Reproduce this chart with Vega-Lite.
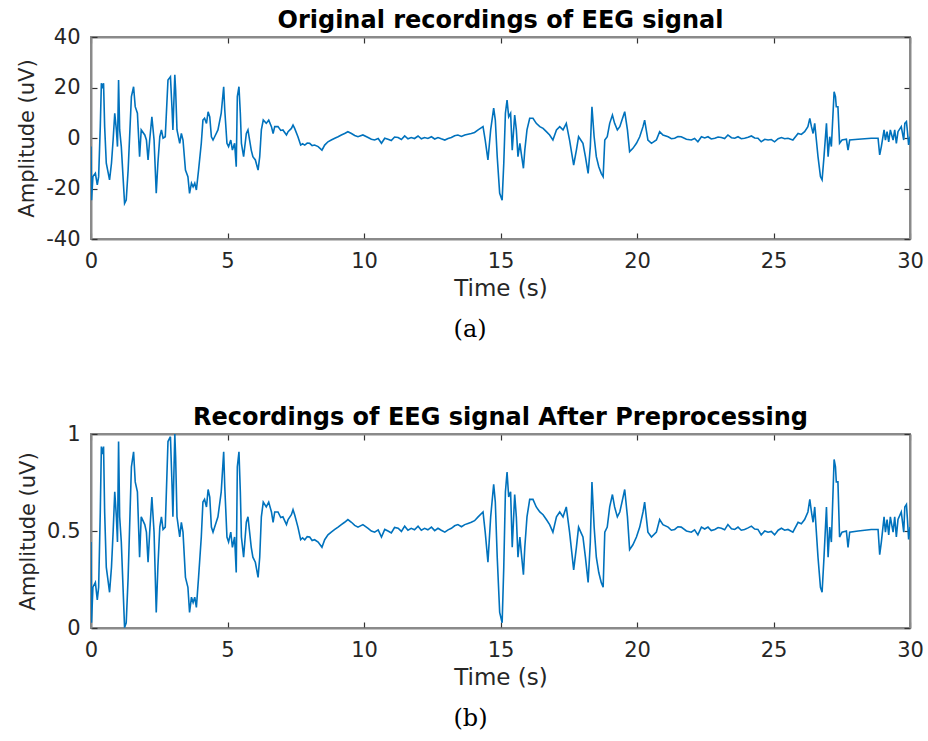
{
  "$schema": "https://vega.github.io/schema/vega-lite/v6.json",
  "background": "white",
  "padding": {"left": 15, "top": 8, "right": 5, "bottom": 5},
  "spacing": 63,
  "config": {
    "view": {"stroke": "#8a8a8a", "strokeWidth": 2},
    "axis": {
      "grid": false,
      "labelFont": "DejaVu Sans",
      "labelFontSize": 21,
      "labelColor": "#262626",
      "labelFlush": false,
      "titleFont": "DejaVu Sans",
      "titleFontSize": 21,
      "titleFontWeight": "normal",
      "titleColor": "#262626",
      "domainColor": "#8a8a8a",
      "domainWidth": 2,
      "tickColor": "#333333",
      "tickSize": -6,
      "tickWidth": 1.2
    },
    "title": {"font": "DejaVu Sans", "fontSize": 24, "fontWeight": "bold", "color": "#000000", "anchor": "middle", "offset": -7}
  },
  "datasets": {
    "eeg": [
      {"t":0.00,"a":-3.4,"b":0.443},{"t":0.02,"a":-24.6,"b":0.027},{"t":0.07,"a":-15.3,"b":0.210},{"t":0.16,"a":-14.0,"b":0.235},{"t":0.23,"a":-18.6,"b":0.145},{"t":0.28,"a":-15.3,"b":0.210},{"t":0.34,"a":4.5,"b":0.598},{"t":0.38,"a":21.7,"b":0.935},{"t":0.42,"a":19.7,"b":0.896},{"t":0.46,"a":21.7,"b":0.935},{"t":0.50,"a":4.5,"b":0.598},{"t":0.56,"a":-10.0,"b":0.314},{"t":0.68,"a":-16.6,"b":0.184},{"t":0.75,"a":-10.0,"b":0.314},{"t":0.81,"a":-0.8,"b":0.494},{"t":0.87,"a":9.8,"b":0.702},{"t":0.93,"a":3.2,"b":0.573},{"t":0.97,"a":-3.4,"b":0.443},{"t":1.01,"a":23.0,"b":0.961},{"t":1.05,"a":3.2,"b":0.573},{"t":1.11,"a":-3.4,"b":0.443},{"t":1.23,"a":-25.9,"b":0.002},{"t":1.29,"a":-24.6,"b":0.027},{"t":1.36,"a":-12.7,"b":0.261},{"t":1.48,"a":16.4,"b":0.831},{"t":1.56,"a":20.3,"b":0.908},{"t":1.62,"a":12.4,"b":0.753},{"t":1.70,"a":9.8,"b":0.702},{"t":1.78,"a":-7.4,"b":0.365},{"t":1.84,"a":3.2,"b":0.573},{"t":1.97,"a":1.2,"b":0.533},{"t":2.03,"a":-0.8,"b":0.494},{"t":2.09,"a":-8.7,"b":0.339},{"t":2.15,"a":-0.8,"b":0.494},{"t":2.23,"a":8.4,"b":0.675},{"t":2.31,"a":-0.8,"b":0.494},{"t":2.39,"a":-21.9,"b":0.080},{"t":2.45,"a":-10.0,"b":0.314},{"t":2.52,"a":0.5,"b":0.520},{"t":2.58,"a":3.2,"b":0.573},{"t":2.64,"a":-0.1,"b":0.508},{"t":2.72,"a":0.5,"b":0.520},{"t":2.82,"a":23.0,"b":0.961},{"t":2.91,"a":24.3,"b":0.986},{"t":2.97,"a":11.1,"b":0.727},{"t":3.00,"a":3.2,"b":0.573},{"t":3.07,"a":25.0,"b":1.0},{"t":3.10,"a":19.0,"b":0.882},{"t":3.15,"a":3.2,"b":0.573},{"t":3.25,"a":-2.1,"b":0.469},{"t":3.31,"a":1.8,"b":0.545},{"t":3.37,"a":-0.8,"b":0.494},{"t":3.46,"a":-12.7,"b":0.261},{"t":3.55,"a":-15.3,"b":0.210},{"t":3.61,"a":-21.9,"b":0.080},{"t":3.68,"a":-17.9,"b":0.159},{"t":3.74,"a":-19.3,"b":0.131},{"t":3.80,"a":-17.9,"b":0.159},{"t":3.86,"a":-20.6,"b":0.106},{"t":3.94,"a":-12.7,"b":0.261},{"t":4.04,"a":-2.1,"b":0.469},{"t":4.10,"a":7.1,"b":0.649},{"t":4.16,"a":7.8,"b":0.663},{"t":4.23,"a":5.8,"b":0.624},{"t":4.29,"a":10.4,"b":0.714},{"t":4.35,"a":8.4,"b":0.675},{"t":4.41,"a":0.5,"b":0.520},{"t":4.47,"a":-0.8,"b":0.494},{"t":4.53,"a":0.5,"b":0.520},{"t":4.65,"a":3.2,"b":0.573},{"t":4.77,"a":9.8,"b":0.702},{"t":4.86,"a":20.3,"b":0.908},{"t":4.90,"a":11.1,"b":0.727},{"t":4.98,"a":-2.1,"b":0.469},{"t":5.04,"a":-3.4,"b":0.443},{"t":5.12,"a":-0.8,"b":0.494},{"t":5.18,"a":-4.8,"b":0.416},{"t":5.26,"a":-2.1,"b":0.469},{"t":5.32,"a":-11.4,"b":0.286},{"t":5.36,"a":16.4,"b":0.831},{"t":5.42,"a":20.3,"b":0.908},{"t":5.47,"a":9.8,"b":0.702},{"t":5.51,"a":-2.1,"b":0.469},{"t":5.59,"a":-7.4,"b":0.365},{"t":5.69,"a":1.8,"b":0.545},{"t":5.75,"a":3.2,"b":0.573},{"t":5.81,"a":-0.8,"b":0.494},{"t":5.87,"a":-4.8,"b":0.416},{"t":5.93,"a":-7.4,"b":0.365},{"t":6.02,"a":-8.7,"b":0.339},{"t":6.12,"a":-12.7,"b":0.261},{"t":6.18,"a":-7.4,"b":0.365},{"t":6.24,"a":3.2,"b":0.573},{"t":6.31,"a":7.1,"b":0.649},{"t":6.42,"a":5.8,"b":0.624},{"t":6.51,"a":7.1,"b":0.649},{"t":6.61,"a":4.5,"b":0.598},{"t":6.67,"a":1.8,"b":0.545},{"t":6.73,"a":4.5,"b":0.598},{"t":6.85,"a":4.5,"b":0.598},{"t":6.95,"a":3.0,"b":0.569},{"t":7.03,"a":3.2,"b":0.573},{"t":7.16,"a":1.2,"b":0.533},{"t":7.22,"a":2.5,"b":0.559},{"t":7.34,"a":3.8,"b":0.584},{"t":7.40,"a":5.1,"b":0.610},{"t":7.46,"a":3.8,"b":0.584},{"t":7.58,"a":0.5,"b":0.520},{"t":7.68,"a":-2.8,"b":0.455},{"t":7.75,"a":-2.3,"b":0.465},{"t":7.83,"a":-2.8,"b":0.455},{"t":7.92,"a":-2.0,"b":0.471},{"t":8.01,"a":-2.1,"b":0.469},{"t":8.10,"a":-3.0,"b":0.451},{"t":8.19,"a":-2.8,"b":0.455},{"t":8.32,"a":-3.4,"b":0.443},{"t":8.46,"a":-4.8,"b":0.416},{"t":8.56,"a":-2.8,"b":0.455},{"t":8.68,"a":-1.5,"b":0.480},{"t":8.80,"a":-0.8,"b":0.494},{"t":8.93,"a":-0.1,"b":0.508},{"t":9.05,"a":0.5,"b":0.520},{"t":9.17,"a":1.2,"b":0.533},{"t":9.29,"a":1.8,"b":0.545},{"t":9.41,"a":2.5,"b":0.559},{"t":9.54,"a":1.8,"b":0.545},{"t":9.66,"a":1.0,"b":0.529},{"t":9.78,"a":0.5,"b":0.520},{"t":9.96,"a":1.2,"b":0.533},{"t":10.15,"a":0.2,"b":0.514},{"t":10.27,"a":-0.5,"b":0.500},{"t":10.39,"a":-0.8,"b":0.494},{"t":10.52,"a":-0.2,"b":0.506},{"t":10.64,"a":-2.1,"b":0.469},{"t":10.76,"a":-0.1,"b":0.508},{"t":10.88,"a":-0.5,"b":0.500},{"t":11.00,"a":-1.0,"b":0.490},{"t":11.12,"a":0.4,"b":0.518},{"t":11.25,"a":0.2,"b":0.514},{"t":11.37,"a":-0.6,"b":0.498},{"t":11.49,"a":0.8,"b":0.525},{"t":11.61,"a":-0.3,"b":0.504},{"t":11.73,"a":0.2,"b":0.514},{"t":11.85,"a":-0.2,"b":0.506},{"t":11.98,"a":0.8,"b":0.525},{"t":12.10,"a":-0.3,"b":0.504},{"t":12.22,"a":0.2,"b":0.514},{"t":12.34,"a":-0.2,"b":0.506},{"t":12.47,"a":0.5,"b":0.520},{"t":12.59,"a":-0.4,"b":0.502},{"t":12.71,"a":0.2,"b":0.514},{"t":12.83,"a":-0.3,"b":0.504},{"t":12.96,"a":-0.8,"b":0.494},{"t":13.08,"a":-0.2,"b":0.506},{"t":13.20,"a":0.2,"b":0.514},{"t":13.32,"a":0.9,"b":0.527},{"t":13.44,"a":1.2,"b":0.533},{"t":13.57,"a":0.6,"b":0.522},{"t":13.69,"a":1.2,"b":0.533},{"t":13.81,"a":1.5,"b":0.539},{"t":13.93,"a":1.8,"b":0.545},{"t":14.05,"a":2.2,"b":0.553},{"t":14.18,"a":3.2,"b":0.573},{"t":14.36,"a":4.5,"b":0.598},{"t":14.44,"a":-0.8,"b":0.494},{"t":14.54,"a":-8.7,"b":0.339},{"t":14.64,"a":3.2,"b":0.573},{"t":14.75,"a":11.8,"b":0.741},{"t":14.81,"a":7.1,"b":0.649},{"t":14.88,"a":-7.4,"b":0.365},{"t":14.97,"a":-21.9,"b":0.080},{"t":15.06,"a":-24.6,"b":0.027},{"t":15.12,"a":-10.0,"b":0.314},{"t":15.18,"a":9.8,"b":0.702},{"t":15.24,"a":15.0,"b":0.804},{"t":15.30,"a":8.4,"b":0.675},{"t":15.37,"a":9.8,"b":0.702},{"t":15.43,"a":-4.8,"b":0.416},{"t":15.52,"a":9.1,"b":0.688},{"t":15.58,"a":3.2,"b":0.573},{"t":15.64,"a":-7.4,"b":0.365},{"t":15.71,"a":-2.1,"b":0.469},{"t":15.76,"a":-6.1,"b":0.390},{"t":15.84,"a":-12.0,"b":0.275},{"t":15.89,"a":-4.8,"b":0.416},{"t":15.97,"a":3.2,"b":0.573},{"t":16.07,"a":7.8,"b":0.663},{"t":16.19,"a":7.8,"b":0.663},{"t":16.31,"a":5.8,"b":0.624},{"t":16.44,"a":4.5,"b":0.598},{"t":16.56,"a":3.8,"b":0.584},{"t":16.68,"a":2.5,"b":0.559},{"t":16.80,"a":1.2,"b":0.533},{"t":16.92,"a":-0.8,"b":0.494},{"t":17.05,"a":3.2,"b":0.573},{"t":17.17,"a":4.5,"b":0.598},{"t":17.29,"a":3.2,"b":0.573},{"t":17.41,"a":5.8,"b":0.624},{"t":17.53,"a":-0.8,"b":0.494},{"t":17.68,"a":-10.7,"b":0.300},{"t":17.78,"a":-4.8,"b":0.416},{"t":17.86,"a":0.5,"b":0.520},{"t":17.94,"a":-0.8,"b":0.494},{"t":18.02,"a":-2.1,"b":0.469},{"t":18.11,"a":-7.4,"b":0.365},{"t":18.21,"a":-14.0,"b":0.235},{"t":18.29,"a":-3.4,"b":0.443},{"t":18.35,"a":12.4,"b":0.753},{"t":18.43,"a":0.5,"b":0.520},{"t":18.51,"a":-7.4,"b":0.365},{"t":18.60,"a":-11.4,"b":0.286},{"t":18.69,"a":-14.0,"b":0.235},{"t":18.76,"a":-15.3,"b":0.210},{"t":18.82,"a":-0.8,"b":0.494},{"t":18.91,"a":0.5,"b":0.520},{"t":19.00,"a":5.8,"b":0.624},{"t":19.10,"a":9.1,"b":0.688},{"t":19.18,"a":5.8,"b":0.624},{"t":19.28,"a":3.2,"b":0.573},{"t":19.37,"a":4.5,"b":0.598},{"t":19.45,"a":7.1,"b":0.649},{"t":19.55,"a":10.4,"b":0.714},{"t":19.65,"a":3.2,"b":0.573},{"t":19.73,"a":-5.4,"b":0.404},{"t":19.85,"a":-4.1,"b":0.429},{"t":19.98,"a":-2.1,"b":0.469},{"t":20.10,"a":0.5,"b":0.520},{"t":20.22,"a":4.5,"b":0.598},{"t":20.28,"a":7.1,"b":0.649},{"t":20.40,"a":-0.8,"b":0.494},{"t":20.53,"a":-2.1,"b":0.469},{"t":20.71,"a":-0.8,"b":0.494},{"t":20.83,"a":2.5,"b":0.559},{"t":20.95,"a":1.2,"b":0.533},{"t":21.14,"a":0.5,"b":0.520},{"t":21.26,"a":-0.3,"b":0.504},{"t":21.38,"a":-0.1,"b":0.508},{"t":21.50,"a":0.6,"b":0.522},{"t":21.62,"a":0.5,"b":0.520},{"t":21.81,"a":-0.5,"b":0.500},{"t":21.99,"a":-0.8,"b":0.494},{"t":22.11,"a":-0.2,"b":0.506},{"t":22.23,"a":-1.5,"b":0.480},{"t":22.36,"a":0.5,"b":0.520},{"t":22.48,"a":0.0,"b":0.510},{"t":22.60,"a":0.5,"b":0.520},{"t":22.72,"a":-0.4,"b":0.502},{"t":22.85,"a":-0.1,"b":0.508},{"t":22.97,"a":0.4,"b":0.518},{"t":23.09,"a":0.2,"b":0.514},{"t":23.21,"a":-0.2,"b":0.506},{"t":23.33,"a":1.2,"b":0.533},{"t":23.46,"a":0.1,"b":0.512},{"t":23.58,"a":-0.1,"b":0.508},{"t":23.70,"a":0.5,"b":0.520},{"t":23.82,"a":-0.3,"b":0.504},{"t":23.94,"a":-0.1,"b":0.508},{"t":24.07,"a":0.3,"b":0.516},{"t":24.19,"a":0.8,"b":0.525},{"t":24.31,"a":0.0,"b":0.510},{"t":24.43,"a":-0.1,"b":0.508},{"t":24.55,"a":-1.5,"b":0.480},{"t":24.68,"a":-0.5,"b":0.500},{"t":24.80,"a":-0.8,"b":0.494},{"t":24.92,"a":-0.6,"b":0.498},{"t":25.04,"a":-1.5,"b":0.480},{"t":25.17,"a":-0.3,"b":0.504},{"t":25.29,"a":0.2,"b":0.514},{"t":25.41,"a":-0.3,"b":0.504},{"t":25.53,"a":-0.1,"b":0.508},{"t":25.71,"a":-0.8,"b":0.494},{"t":25.90,"a":1.8,"b":0.545},{"t":26.02,"a":1.4,"b":0.537},{"t":26.14,"a":2.5,"b":0.559},{"t":26.26,"a":4.5,"b":0.598},{"t":26.33,"a":7.8,"b":0.663},{"t":26.39,"a":4.5,"b":0.598},{"t":26.45,"a":1.8,"b":0.545},{"t":26.51,"a":5.8,"b":0.624},{"t":26.57,"a":-0.8,"b":0.494},{"t":26.63,"a":-7.4,"b":0.365},{"t":26.72,"a":-15.3,"b":0.210},{"t":26.78,"a":-16.6,"b":0.184},{"t":26.85,"a":-7.4,"b":0.365},{"t":26.94,"a":5.8,"b":0.624},{"t":27.00,"a":-7.4,"b":0.365},{"t":27.06,"a":0.5,"b":0.520},{"t":27.12,"a":-3.4,"b":0.443},{"t":27.22,"a":18.3,"b":0.869},{"t":27.27,"a":16.4,"b":0.831},{"t":27.30,"a":12.4,"b":0.753},{"t":27.36,"a":12.4,"b":0.753},{"t":27.42,"a":-2.1,"b":0.469},{"t":27.51,"a":-0.8,"b":0.494},{"t":27.67,"a":-0.5,"b":0.500},{"t":27.73,"a":-4.8,"b":0.416},{"t":27.79,"a":-0.8,"b":0.494},{"t":28.10,"a":-0.5,"b":0.500},{"t":28.58,"a":-0.1,"b":0.508},{"t":28.83,"a":-0.1,"b":0.508},{"t":28.89,"a":-6.7,"b":0.378},{"t":28.95,"a":-3.4,"b":0.443},{"t":29.05,"a":3.2,"b":0.573},{"t":29.10,"a":-0.8,"b":0.494},{"t":29.16,"a":2.5,"b":0.559},{"t":29.22,"a":-1.5,"b":0.480},{"t":29.28,"a":3.2,"b":0.573},{"t":29.38,"a":-0.8,"b":0.494},{"t":29.44,"a":3.2,"b":0.573},{"t":29.50,"a":-2.1,"b":0.469},{"t":29.56,"a":2.5,"b":0.559},{"t":29.68,"a":4.5,"b":0.598},{"t":29.77,"a":-0.8,"b":0.494},{"t":29.81,"a":5.8,"b":0.624},{"t":29.87,"a":6.5,"b":0.637},{"t":29.90,"a":3.2,"b":0.573},{"t":29.95,"a":-2.7,"b":0.457},{"t":30.00,"a":0.5,"b":0.520}
    ]
  },
  "vconcat": [
    {
      "title": {"text": "(a)", "orient": "bottom", "font": "DejaVu Serif", "fontSize": 24, "fontWeight": "normal", "offset": 17},
      "vconcat": [
        {
          "title": "Original recordings of EEG signal",
          "width": 819,
          "height": 202,
          "data": {"name": "eeg"},
          "layer": [
            {
              "mark": {"type": "line", "color": "#0072BD", "strokeWidth": 1.6, "clip": true},
              "encoding": {
                "x": {"field": "t", "type": "quantitative", "scale": {"domain": [0, 30], "nice": false, "zero": false},
                      "axis": {"orient": "bottom", "title": "Time (s)", "titleFontSize": 23, "values": [0, 5, 10, 15, 20, 25, 30], "labelPadding": 17, "titlePadding": 6}},
                "y": {"field": "a", "type": "quantitative", "scale": {"domain": [-40, 40], "nice": false},
                      "axis": {"orient": "left", "title": "Amplitude (uV)", "values": [-40, -20, 0, 20, 40], "labelExpr": "'' + datum.value", "labelPadding": 17, "titlePadding": 8}}
              }
            },
            {
              "mark": {"type": "line", "opacity": 0},
              "encoding": {
                "x": {"field": "t", "type": "quantitative", "axis": {"orient": "top", "title": null, "labels": false, "values": [0, 5, 10, 15, 20, 25, 30]}},
                "y": {"field": "a", "type": "quantitative", "axis": {"orient": "right", "title": null, "labels": false, "values": [-40, -20, 0, 20, 40]}}
              }
            }
          ]
        }
      ]
    },
    {
      "title": {"text": "(b)", "orient": "bottom", "font": "DejaVu Serif", "fontSize": 24, "fontWeight": "normal", "offset": 17},
      "vconcat": [
        {
          "title": "Recordings of EEG signal After Preprocessing",
          "width": 819,
          "height": 194,
          "data": {"name": "eeg"},
          "layer": [
            {
              "mark": {"type": "line", "color": "#0072BD", "strokeWidth": 1.6, "clip": true},
              "encoding": {
                "x": {"field": "t", "type": "quantitative", "scale": {"domain": [0, 30], "nice": false, "zero": false},
                      "axis": {"orient": "bottom", "title": "Time (s)", "titleFontSize": 23, "values": [0, 5, 10, 15, 20, 25, 30], "labelPadding": 17, "titlePadding": 6}},
                "y": {"field": "b", "type": "quantitative", "scale": {"domain": [0, 1], "nice": false},
                      "axis": {"orient": "left", "title": "Amplitude (uV)", "values": [0, 0.5, 1], "labelExpr": "'' + datum.value", "labelPadding": 17, "titlePadding": 8}}
              }
            },
            {
              "mark": {"type": "line", "opacity": 0},
              "encoding": {
                "x": {"field": "t", "type": "quantitative", "axis": {"orient": "top", "title": null, "labels": false, "values": [0, 5, 10, 15, 20, 25, 30]}},
                "y": {"field": "b", "type": "quantitative", "axis": {"orient": "right", "title": null, "labels": false, "values": [0, 0.5, 1]}}
              }
            }
          ]
        }
      ]
    }
  ]
}
